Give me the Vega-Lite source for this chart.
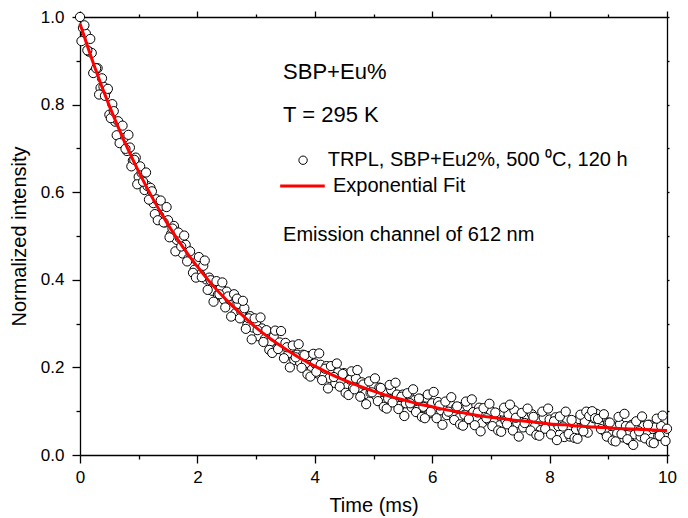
{
  "$schema": "https://vega.github.io/schema/vega-lite/v6.json",
  "width": 587,
  "height": 438,
  "autosize": {"type": "none"},
  "padding": {"left": 80, "top": 17, "right": 21, "bottom": 63},
  "background": "white",
  "config": {
    "view": {"stroke": null},
    "font": "Liberation Sans",
    "axis": {
      "grid": false,
      "domainColor": "black",
      "domainWidth": 1.3,
      "tickColor": "black",
      "tickWidth": 1.3,
      "labelColor": "black",
      "titleColor": "black",
      "labelFont": "Liberation Sans",
      "titleFont": "Liberation Sans",
      "labelFontSize": 17,
      "titleFontSize": 20,
      "titleFontWeight": "normal"
    },
    "text": {"font": "Liberation Sans", "color": "black"}
  },
  "datasets": {
    "trpl": [
      {"t":0.00,"v":1.000},{"t":0.05,"v":0.975},{"t":0.10,"v":0.962},{"t":0.15,"v":0.921},{"t":0.20,"v":0.918},
      {"t":0.25,"v":0.876},{"t":0.30,"v":0.883},{"t":0.35,"v":0.838},{"t":0.40,"v":0.841},{"t":0.45,"v":0.831},
      {"t":0.50,"v":0.777},{"t":0.55,"v":0.801},{"t":0.60,"v":0.761},{"t":0.65,"v":0.762},{"t":0.70,"v":0.719},
      {"t":0.75,"v":0.724},{"t":0.80,"v":0.694},{"t":0.85,"v":0.702},{"t":0.90,"v":0.672},{"t":0.95,"v":0.679},
      {"t":1.00,"v":0.635},{"t":1.05,"v":0.644},{"t":1.10,"v":0.605},{"t":1.15,"v":0.614},{"t":1.20,"v":0.610},
      {"t":1.25,"v":0.575},{"t":1.30,"v":0.584},{"t":1.35,"v":0.546},{"t":1.40,"v":0.569},{"t":1.45,"v":0.531},
      {"t":1.50,"v":0.536},{"t":1.55,"v":0.504},{"t":1.60,"v":0.523},{"t":1.65,"v":0.491},{"t":1.70,"v":0.495},
      {"t":1.75,"v":0.460},{"t":1.80,"v":0.480},{"t":1.85,"v":0.449},{"t":1.90,"v":0.454},{"t":1.95,"v":0.423},
      {"t":2.00,"v":0.442},{"t":2.05,"v":0.412},{"t":2.10,"v":0.432},{"t":2.15,"v":0.401},{"t":2.20,"v":0.405},
      {"t":2.25,"v":0.375},{"t":2.30,"v":0.394},{"t":2.35,"v":0.366},{"t":2.40,"v":0.383},{"t":2.45,"v":0.355},
      {"t":2.50,"v":0.373},{"t":2.55,"v":0.355},{"t":2.60,"v":0.362},{"t":2.65,"v":0.324},{"t":2.70,"v":0.345},
      {"t":2.75,"v":0.326},{"t":2.80,"v":0.335},{"t":2.85,"v":0.297},{"t":2.90,"v":0.317},{"t":2.95,"v":0.291},
      {"t":3.00,"v":0.301},{"t":3.05,"v":0.271},{"t":3.10,"v":0.289},{"t":3.15,"v":0.265},{"t":3.20,"v":0.282},
      {"t":3.25,"v":0.259},{"t":3.30,"v":0.270},{"t":3.35,"v":0.242},{"t":3.40,"v":0.257},{"t":3.45,"v":0.239},
      {"t":3.50,"v":0.256},{"t":3.55,"v":0.232},{"t":3.60,"v":0.246},{"t":3.65,"v":0.217},{"t":3.70,"v":0.229},
      {"t":3.75,"v":0.211},{"t":3.80,"v":0.229},{"t":3.85,"v":0.210},{"t":3.90,"v":0.226},{"t":3.95,"v":0.195},
      {"t":4.00,"v":0.209},{"t":4.05,"v":0.186},{"t":4.10,"v":0.206},{"t":4.15,"v":0.187},{"t":4.20,"v":0.203},
      {"t":4.25,"v":0.176},{"t":4.30,"v":0.191},{"t":4.35,"v":0.164},{"t":4.40,"v":0.189},{"t":4.45,"v":0.170},
      {"t":4.50,"v":0.187},{"t":4.55,"v":0.156},{"t":4.60,"v":0.172},{"t":4.65,"v":0.153},{"t":4.70,"v":0.175},
      {"t":4.75,"v":0.154},{"t":4.80,"v":0.166},{"t":4.85,"v":0.139},{"t":4.90,"v":0.159},{"t":4.95,"v":0.142},
      {"t":5.00,"v":0.160},{"t":5.05,"v":0.134},{"t":5.10,"v":0.154},{"t":5.15,"v":0.123},{"t":5.20,"v":0.143},
      {"t":5.25,"v":0.129},{"t":5.30,"v":0.149},{"t":5.35,"v":0.121},{"t":5.40,"v":0.138},{"t":5.45,"v":0.112},
      {"t":5.50,"v":0.138},{"t":5.55,"v":0.118},{"t":5.60,"v":0.138},{"t":5.65,"v":0.109},{"t":5.70,"v":0.125},
      {"t":5.75,"v":0.103},{"t":5.80,"v":0.128},{"t":5.85,"v":0.110},{"t":5.90,"v":0.131},{"t":5.95,"v":0.095},
      {"t":6.00,"v":0.118},{"t":6.05,"v":0.099},{"t":6.10,"v":0.121},{"t":6.15,"v":0.102},{"t":6.20,"v":0.116},
      {"t":6.25,"v":0.091},{"t":6.30,"v":0.118},{"t":6.35,"v":0.093},{"t":6.40,"v":0.107},{"t":6.45,"v":0.084},
      {"t":6.50,"v":0.109},{"t":6.55,"v":0.092},{"t":6.60,"v":0.111},{"t":6.65,"v":0.081},{"t":6.70,"v":0.098},
      {"t":6.75,"v":0.083},{"t":6.80,"v":0.108},{"t":6.85,"v":0.073},{"t":6.90,"v":0.094},{"t":6.95,"v":0.081},
      {"t":7.00,"v":0.100},{"t":7.05,"v":0.075},{"t":7.10,"v":0.094},{"t":7.15,"v":0.068},{"t":7.20,"v":0.099},
      {"t":7.25,"v":0.078},{"t":7.30,"v":0.093},{"t":7.35,"v":0.068},{"t":7.40,"v":0.102},{"t":7.45,"v":0.073},
      {"t":7.50,"v":0.088},{"t":7.55,"v":0.063},{"t":7.60,"v":0.089},{"t":7.65,"v":0.072},{"t":7.70,"v":0.093},
      {"t":7.75,"v":0.065},{"t":7.80,"v":0.082},{"t":7.85,"v":0.057},{"t":7.90,"v":0.085},{"t":7.95,"v":0.066},
      {"t":8.00,"v":0.081},{"t":8.05,"v":0.059},{"t":8.10,"v":0.086},{"t":8.15,"v":0.066},{"t":8.20,"v":0.077},
      {"t":8.25,"v":0.041},{"t":8.30,"v":0.080},{"t":8.35,"v":0.042},{"t":8.40,"v":0.073},{"t":8.45,"v":0.057},
      {"t":8.50,"v":0.082},{"t":8.55,"v":0.060},{"t":8.60,"v":0.077},{"t":8.65,"v":0.051},{"t":8.70,"v":0.092},
      {"t":8.75,"v":0.084},{"t":8.80,"v":0.094},{"t":8.85,"v":0.069},{"t":8.90,"v":0.087},{"t":8.95,"v":0.052},
      {"t":9.00,"v":0.074},{"t":9.05,"v":0.046},{"t":9.10,"v":0.065},{"t":9.15,"v":0.049},{"t":9.20,"v":0.070},
      {"t":9.25,"v":0.040},{"t":9.30,"v":0.066},{"t":9.35,"v":0.034},{"t":9.40,"v":0.069},{"t":9.45,"v":0.047},
      {"t":9.50,"v":0.063},{"t":9.55,"v":0.042},{"t":9.60,"v":0.066},{"t":9.65,"v":0.046},{"t":9.70,"v":0.069},
      {"t":9.75,"v":0.039},{"t":9.80,"v":0.063},{"t":9.85,"v":0.043},{"t":9.90,"v":0.066},{"t":9.95,"v":0.048},
      {"t":10.00,"v":0.060},
      {"t":0.025,"v":0.945},{"t":0.075,"v":0.981},{"t":0.125,"v":0.924},{"t":0.175,"v":0.950},{"t":0.225,"v":0.872},
      {"t":0.275,"v":0.883},{"t":0.325,"v":0.823},{"t":0.375,"v":0.860},{"t":0.425,"v":0.820},{"t":0.475,"v":0.836},
      {"t":0.525,"v":0.769},{"t":0.575,"v":0.785},{"t":0.625,"v":0.730},{"t":0.675,"v":0.712},{"t":0.725,"v":0.752},
      {"t":0.775,"v":0.699},{"t":0.825,"v":0.731},{"t":0.875,"v":0.659},{"t":0.925,"v":0.674},{"t":0.975,"v":0.618},
      {"t":1.025,"v":0.659},{"t":1.075,"v":0.624},{"t":1.125,"v":0.645},{"t":1.175,"v":0.583},{"t":1.225,"v":0.602},
      {"t":1.275,"v":0.550},{"t":1.325,"v":0.536},{"t":1.375,"v":0.581},{"t":1.425,"v":0.531},{"t":1.475,"v":0.566},
      {"t":1.525,"v":0.497},{"t":1.575,"v":0.517},{"t":1.625,"v":0.465},{"t":1.675,"v":0.508},{"t":1.725,"v":0.476},
      {"t":1.775,"v":0.501},{"t":1.825,"v":0.442},{"t":1.875,"v":0.465},{"t":1.925,"v":0.416},{"t":1.975,"v":0.405},
      {"t":2.025,"v":0.452},{"t":2.075,"v":0.406},{"t":2.125,"v":0.444},{"t":2.175,"v":0.377},{"t":2.225,"v":0.399},
      {"t":2.275,"v":0.350},{"t":2.325,"v":0.397},{"t":2.375,"v":0.367},{"t":2.425,"v":0.394},{"t":2.475,"v":0.337},
      {"t":2.525,"v":0.362},{"t":2.575,"v":0.316},{"t":2.625,"v":0.367},{"t":2.675,"v":0.357},{"t":2.725,"v":0.312},
      {"t":2.775,"v":0.352},{"t":2.825,"v":0.288},{"t":2.875,"v":0.312},{"t":2.925,"v":0.264},{"t":2.975,"v":0.312},
      {"t":3.025,"v":0.285},{"t":3.075,"v":0.314},{"t":3.125,"v":0.258},{"t":3.175,"v":0.285},{"t":3.225,"v":0.240},
      {"t":3.275,"v":0.233},{"t":3.325,"v":0.284},{"t":3.375,"v":0.242},{"t":3.425,"v":0.283},{"t":3.475,"v":0.221},
      {"t":3.525,"v":0.246},{"t":3.575,"v":0.200},{"t":3.625,"v":0.250},{"t":3.675,"v":0.223},{"t":3.725,"v":0.253},
      {"t":3.775,"v":0.199},{"t":3.825,"v":0.228},{"t":3.875,"v":0.184},{"t":3.925,"v":0.179},{"t":3.975,"v":0.231},
      {"t":4.025,"v":0.190},{"t":4.075,"v":0.232},{"t":4.125,"v":0.171},{"t":4.175,"v":0.197},{"t":4.225,"v":0.152},
      {"t":4.275,"v":0.203},{"t":4.325,"v":0.178},{"t":4.375,"v":0.209},{"t":4.425,"v":0.156},{"t":4.475,"v":0.185},
      {"t":4.525,"v":0.142},{"t":4.575,"v":0.137},{"t":4.625,"v":0.191},{"t":4.675,"v":0.150},{"t":4.725,"v":0.194},
      {"t":4.775,"v":0.133},{"t":4.825,"v":0.161},{"t":4.875,"v":0.116},{"t":4.925,"v":0.168},{"t":4.975,"v":0.143},
      {"t":5.025,"v":0.175},{"t":5.075,"v":0.123},{"t":5.125,"v":0.153},{"t":5.175,"v":0.110},{"t":5.225,"v":0.106},
      {"t":5.275,"v":0.160},{"t":5.325,"v":0.120},{"t":5.375,"v":0.165},{"t":5.425,"v":0.105},{"t":5.475,"v":0.133},
      {"t":5.525,"v":0.089},{"t":5.575,"v":0.141},{"t":5.625,"v":0.118},{"t":5.675,"v":0.150},{"t":5.725,"v":0.098},
      {"t":5.775,"v":0.129},{"t":5.825,"v":0.087},{"t":5.875,"v":0.084},{"t":5.925,"v":0.138},{"t":5.975,"v":0.099},
      {"t":6.025,"v":0.144},{"t":6.075,"v":0.084},{"t":6.125,"v":0.113},{"t":6.175,"v":0.069},{"t":6.225,"v":0.122},
      {"t":6.275,"v":0.099},{"t":6.325,"v":0.132},{"t":6.375,"v":0.080},{"t":6.425,"v":0.111},{"t":6.475,"v":0.070},
      {"t":6.525,"v":0.067},{"t":6.575,"v":0.122},{"t":6.625,"v":0.082},{"t":6.675,"v":0.127},{"t":6.725,"v":0.068},
      {"t":6.775,"v":0.097},{"t":6.825,"v":0.054},{"t":6.875,"v":0.107},{"t":6.925,"v":0.084},{"t":6.975,"v":0.117},
      {"t":7.025,"v":0.066},{"t":7.075,"v":0.097},{"t":7.125,"v":0.056},{"t":7.175,"v":0.053},{"t":7.225,"v":0.108},
      {"t":7.275,"v":0.070},{"t":7.325,"v":0.115},{"t":7.375,"v":0.056},{"t":7.425,"v":0.085},{"t":7.475,"v":0.042},
      {"t":7.525,"v":0.096},{"t":7.575,"v":0.073},{"t":7.625,"v":0.106},{"t":7.675,"v":0.056},{"t":7.725,"v":0.087},
      {"t":7.775,"v":0.046},{"t":7.825,"v":0.044},{"t":7.875,"v":0.099},{"t":7.925,"v":0.060},{"t":7.975,"v":0.106},
      {"t":8.025,"v":0.047},{"t":8.075,"v":0.077},{"t":8.125,"v":0.034},{"t":8.175,"v":0.088},{"t":8.225,"v":0.065},
      {"t":8.275,"v":0.099},{"t":8.325,"v":0.048},{"t":8.375,"v":0.080},{"t":8.425,"v":0.039},{"t":8.475,"v":0.037},
      {"t":8.525,"v":0.092},{"t":8.575,"v":0.054},{"t":8.625,"v":0.099},{"t":8.675,"v":0.089},{"t":8.725,"v":0.100},
      {"t":8.775,"v":0.084},{"t":8.825,"v":0.082},{"t":8.875,"v":0.059},{"t":8.925,"v":0.093},{"t":8.975,"v":0.042},
      {"t":9.025,"v":0.074},{"t":9.075,"v":0.033},{"t":9.125,"v":0.031},{"t":9.175,"v":0.087},{"t":9.225,"v":0.048},
      {"t":9.275,"v":0.094},{"t":9.325,"v":0.036},{"t":9.375,"v":0.065},{"t":9.425,"v":0.023},{"t":9.475,"v":0.077},
      {"t":9.525,"v":0.054},{"t":9.575,"v":0.088},{"t":9.625,"v":0.038},{"t":9.675,"v":0.069},{"t":9.725,"v":0.029},
      {"t":9.775,"v":0.027},{"t":9.825,"v":0.083},{"t":9.875,"v":0.044},{"t":9.925,"v":0.090},{"t":9.975,"v":0.032}
    ],
    "fit": [
      {"t":0.00,"v":0.985},{"t":0.25,"v":0.886},{"t":0.50,"v":0.797},{"t":0.75,"v":0.718},{"t":1.00,"v":0.647},
      {"t":1.25,"v":0.583},{"t":1.50,"v":0.526},{"t":1.75,"v":0.475},{"t":2.00,"v":0.430},{"t":2.25,"v":0.389},
      {"t":2.50,"v":0.353},{"t":2.75,"v":0.321},{"t":3.00,"v":0.291},{"t":3.25,"v":0.265},{"t":3.50,"v":0.242},
      {"t":3.75,"v":0.221},{"t":4.00,"v":0.203},{"t":4.25,"v":0.186},{"t":4.50,"v":0.171},{"t":4.75,"v":0.158},
      {"t":5.00,"v":0.146},{"t":5.25,"v":0.135},{"t":5.50,"v":0.126},{"t":5.75,"v":0.117},{"t":6.00,"v":0.110},
      {"t":6.25,"v":0.103},{"t":6.50,"v":0.097},{"t":6.75,"v":0.091},{"t":7.00,"v":0.086},{"t":7.25,"v":0.082},
      {"t":7.50,"v":0.078},{"t":7.75,"v":0.075},{"t":8.00,"v":0.071},{"t":8.25,"v":0.069},{"t":8.50,"v":0.066},
      {"t":8.75,"v":0.064},{"t":9.00,"v":0.062},{"t":9.25,"v":0.060},{"t":9.50,"v":0.059},{"t":9.75,"v":0.057},
      {"t":10.00,"v":0.056}
    ]
  },
  "layer": [
    {
      "data": {"name": "trpl"},
      "mark": {"type": "point", "shape": "circle", "filled": true, "fill": "white", "stroke": "black", "strokeWidth": 1, "size": 85, "opacity": 1, "fillOpacity": 1, "strokeOpacity": 1},
      "encoding": {
        "x": {
          "field": "t", "type": "quantitative",
          "scale": {"domain": [0, 10], "nice": false, "zero": false},
          "axis": {
            "orient": "bottom",
            "title": "Time (ms)",
            "values": [0,1,2,3,4,5,6,7,8,9,10],
            "labelExpr": "datum.value % 2 === 0 ? datum.label : ''",
            "tickSize": {"condition": {"test": "datum.value % 2 === 0", "value": 8}, "value": 4},
            "labelPadding": 6,
            "titlePadding": 10,
            "labelFlush": false,
            "labelOverlap": false
          }
        },
        "y": {
          "field": "v", "type": "quantitative",
          "scale": {"domain": [0, 1], "nice": false, "zero": false},
          "axis": {
            "orient": "left",
            "title": "Normalized intensity",
            "values": [0,0.1,0.2,0.3,0.4,0.5,0.6,0.7,0.8,0.9,1.0],
            "labelExpr": "round(datum.value*10) % 2 === 0 ? format(datum.value, '.1f') : ''",
            "tickSize": {"condition": {"test": "round(datum.value*10) % 2 === 0", "value": 8}, "value": 4},
            "labelPadding": 8,
            "titlePadding": 11,
            "labelFlush": false,
            "labelOverlap": false
          }
        }
      }
    },
    {
      "data": {"name": "fit"},
      "mark": {"type": "line", "color": "#ff0000", "strokeWidth": 3, "interpolate": "monotone"},
      "encoding": {
        "x": {
          "field": "t", "type": "quantitative",
          "axis": {
            "orient": "top", "title": null, "labels": false,
            "values": [0,1,2,3,4,5,6,7,8,9,10],
            "tickSize": {"condition": {"test": "datum.value % 2 === 0", "value": 6}, "value": 3}
          }
        },
        "y": {
          "field": "v", "type": "quantitative",
          "axis": {
            "orient": "right", "title": null, "labels": false,
            "values": [0,0.1,0.2,0.3,0.4,0.5,0.6,0.7,0.8,0.9,1.0],
            "tickSize": 2
          }
        }
      }
    },
    {
      "data": {"values": [{}]},
      "mark": {"type": "text", "text": "SBP+Eu%", "fontSize": 22, "align": "left", "baseline": "middle"},
      "encoding": {"x": {"datum": 3.46, "type": "quantitative", "axis": null}, "y": {"datum": 0.874, "type": "quantitative", "axis": null}}
    },
    {
      "data": {"values": [{}]},
      "mark": {"type": "text", "text": "T = 295 K", "fontSize": 22, "align": "left", "baseline": "middle"},
      "encoding": {"x": {"datum": 3.46, "type": "quantitative", "axis": null}, "y": {"datum": 0.777, "type": "quantitative", "axis": null}}
    },
    {
      "data": {"values": [{}]},
      "mark": {"type": "point", "shape": "circle", "filled": true, "fill": "white", "stroke": "black", "strokeWidth": 1, "size": 70, "opacity": 1},
      "encoding": {"x": {"datum": 3.8, "type": "quantitative", "axis": null}, "y": {"datum": 0.673, "type": "quantitative", "axis": null}}
    },
    {
      "data": {"values": [{}]},
      "mark": {"type": "text", "text": "TRPL, SBP+Eu2%, 500 ⁰C, 120 h", "fontSize": 20, "align": "left", "baseline": "middle"},
      "encoding": {"x": {"datum": 4.22, "type": "quantitative", "axis": null}, "y": {"datum": 0.673, "type": "quantitative", "axis": null}}
    },
    {
      "data": {"values": [{}]},
      "mark": {"type": "rule", "color": "#ff0000", "strokeWidth": 3},
      "encoding": {"x": {"datum": 3.41, "type": "quantitative", "axis": null}, "x2": {"datum": 4.17}, "y": {"datum": 0.614, "type": "quantitative", "axis": null}}
    },
    {
      "data": {"values": [{}]},
      "mark": {"type": "text", "text": "Exponential Fit", "fontSize": 20, "align": "left", "baseline": "middle"},
      "encoding": {"x": {"datum": 4.31, "type": "quantitative", "axis": null}, "y": {"datum": 0.614, "type": "quantitative", "axis": null}}
    },
    {
      "data": {"values": [{}]},
      "mark": {"type": "text", "text": "Emission channel of 612 nm", "fontSize": 20, "align": "left", "baseline": "middle"},
      "encoding": {"x": {"datum": 3.46, "type": "quantitative", "axis": null}, "y": {"datum": 0.502, "type": "quantitative", "axis": null}}
    }
  ],
  "resolve": {"axis": {"x": "independent", "y": "independent"}}
}
